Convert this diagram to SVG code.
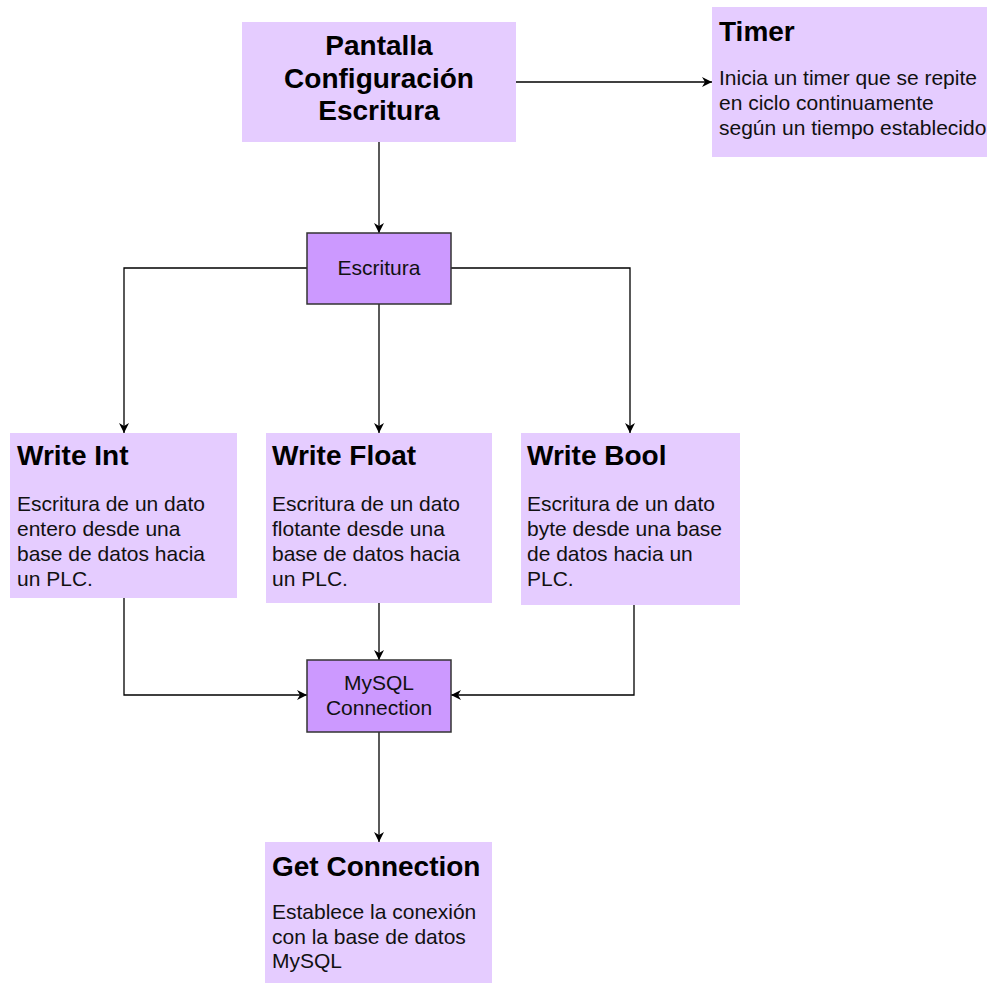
<svg xmlns="http://www.w3.org/2000/svg" width="987" height="983" viewBox="0 0 987 983">
  <style>
    .card { fill: #E5CCFF; }
    .proc { fill: #CC99FF; stroke: #333333; stroke-width: 1.5; }
    .title { font-family: "Liberation Sans", Arial, sans-serif; font-size: 28px; font-weight: bold; fill: #000000; }
    .body { font-family: "Liberation Sans", Arial, sans-serif; font-size: 21px; fill: #111111; }
    .center { text-anchor: middle; }
    .wire { fill: none; stroke: #000000; stroke-width: 1.3; marker-end: url(#arrow); }
  </style>
  <defs>
    <marker id="arrow" viewBox="0 0 10 10" refX="10" refY="5" markerWidth="10" markerHeight="10" markerUnits="userSpaceOnUse" orient="auto">
      <path d="M0,0 L10,5 L0,10 L3,5 z" fill="#000000"/>
    </marker>
  </defs>

  <rect width="987" height="983" fill="#FFFFFF"/>

  <!-- connectors -->
  <g id="connectors">
    <path class="wire" d="M516,82 L712,82"/>
    <path class="wire" d="M379,142 L379,233"/>
    <path class="wire" d="M307,268 L124,268 L124,433"/>
    <path class="wire" d="M379,304 L379,433"/>
    <path class="wire" d="M451,268 L630,268 L630,433"/>
    <path class="wire" d="M124,598 L124,695 L307,695"/>
    <path class="wire" d="M379,603 L379,660"/>
    <path class="wire" d="M634,605 L634,695 L451,695"/>
    <path class="wire" d="M379,732 L379,842"/>
  </g>

  <g id="pantalla">
    <rect class="card" x="242" y="22" width="274" height="120"/>
    <text class="title center" x="379" y="55">Pantalla</text>
    <text class="title center" x="379" y="88">Configuración</text>
    <text class="title center" x="379" y="120">Escritura</text>
  </g>

  <g id="timer">
    <rect class="card" x="712" y="7" width="280" height="150"/>
    <text class="title" x="719" y="41">Timer</text>
    <text class="body" x="719" y="85">Inicia un timer que se repite</text>
    <text class="body" x="719" y="110">en ciclo continuamente</text>
    <text class="body" x="719" y="135">según un tiempo establecido</text>
  </g>

  <g id="escritura">
    <rect class="proc" x="307" y="233" width="144" height="71"/>
    <text class="body center" x="379" y="275">Escritura</text>
  </g>

  <g id="write-int">
    <rect class="card" x="10" y="433" width="227" height="165"/>
    <text class="title" x="17" y="465">Write Int</text>
    <text class="body" x="17" y="511">Escritura de un dato</text>
    <text class="body" x="17" y="536">entero desde una</text>
    <text class="body" x="17" y="561">base de datos hacia</text>
    <text class="body" x="17" y="586">un PLC.</text>
  </g>

  <g id="write-float">
    <rect class="card" x="266" y="433" width="226" height="170"/>
    <text class="title" x="272" y="465">Write Float</text>
    <text class="body" x="272" y="511">Escritura de un dato</text>
    <text class="body" x="272" y="536">flotante desde una</text>
    <text class="body" x="272" y="561">base de datos hacia</text>
    <text class="body" x="272" y="586">un PLC.</text>
  </g>

  <g id="write-bool">
    <rect class="card" x="521" y="433" width="219" height="172"/>
    <text class="title" x="527" y="465">Write Bool</text>
    <text class="body" x="527" y="511">Escritura de un dato</text>
    <text class="body" x="527" y="536">byte desde una base</text>
    <text class="body" x="527" y="561">de datos hacia un</text>
    <text class="body" x="527" y="586">PLC.</text>
  </g>

  <g id="mysql-connection">
    <rect class="proc" x="307" y="660" width="144" height="72"/>
    <text class="body center" x="379" y="690">MySQL</text>
    <text class="body center" x="379" y="715">Connection</text>
  </g>

  <g id="get-connection">
    <rect class="card" x="265" y="842" width="227" height="145"/>
    <text class="title" x="272" y="876">Get Connection</text>
    <text class="body" x="272" y="919">Establece la conexión</text>
    <text class="body" x="272" y="944">con la base de datos</text>
    <text class="body" x="272" y="968">MySQL</text>
  </g>
</svg>
